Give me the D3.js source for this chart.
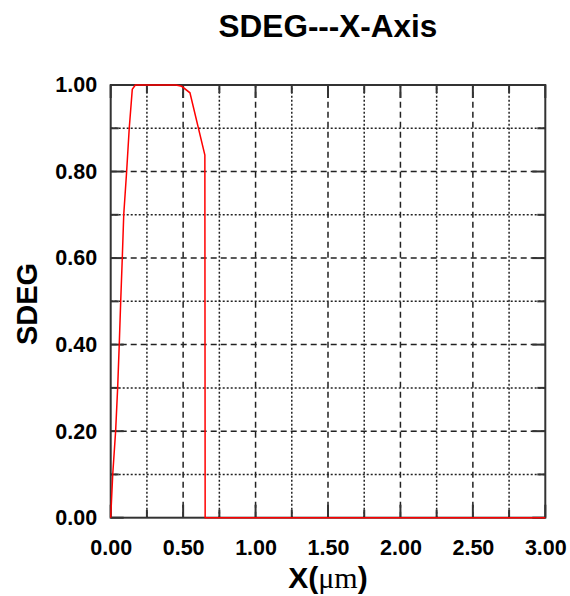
<!DOCTYPE html>
<html>
<head>
<meta charset="utf-8">
<script src="https://cdn.jsdelivr.net/npm/d3@7"></script>
<style>
  html, body { margin: 0; padding: 0; background: #fff; }
  svg { display: block; }
</style>
</head>
<body>
<script>
// ---- data ----
const xValues    = [0, 0.014, 0.034, 0.048, 0.059, 0.069, 0.080, 0.090, 0.110, 0.128, 0.149, 0.170, 0.450, 0.490, 0.547, 0.650, 0.652, 3.00];
const sdegValues = [0, 0.10,  0.20,  0.30,  0.40,  0.50,  0.60,  0.70,  0.80,  0.90,  0.99,  1.00,  1.00,  0.997, 0.982, 0.838, 0.0,   0.0];
const xMajorTicks = [0, 0.5, 1.0, 1.5, 2.0, 2.5, 3.0];
const xMinorTicks = [0.25, 0.75, 1.25, 1.75, 2.25, 2.75];
const yMajorTicks = [0, 0.2, 0.4, 0.6, 0.8, 1.0];
const yMinorTicks = [0.1, 0.3, 0.5, 0.7, 0.9];
const xTickLabels = ["0.00", "0.50", "1.00", "1.50", "2.00", "2.50", "3.00"];
const yTickLabels = ["0.00", "0.20", "0.40", "0.60", "0.80", "1.00"];
const titleText = "SDEG---X-Axis";
const yTitleText = "SDEG";

const W = 570, H = 596;
const L = 110.7, R = 545.3, T = 85, B = 517.7;

const svg = d3.select("body").append("svg").attr("width", W).attr("height", H);
svg.append("rect").attr("width", W).attr("height", H).attr("fill", "#fff");

const x = d3.scaleLinear().domain([0, 3]).range([L, R]);
const y = d3.scaleLinear().domain([0, 1]).range([B, T]);

const gridColor = "#222";
const g = svg.append("g");

// vertical grid lines
g.selectAll(".vmaj").data(xMajorTicks.slice(1, -1)).join("line")
  .attr("x1", d => x(d)).attr("x2", d => x(d)).attr("y1", B).attr("y2", T)
  .attr("stroke", gridColor).attr("stroke-width", 1.5).attr("stroke-dasharray", "6,4");
g.selectAll(".vmin").data(xMinorTicks).join("line")
  .attr("x1", d => x(d)).attr("x2", d => x(d)).attr("y1", B).attr("y2", T)
  .attr("stroke", gridColor).attr("stroke-width", 1.5).attr("stroke-dasharray", "2,2");
// horizontal grid lines
g.selectAll(".hmaj").data(yMajorTicks.slice(1, -1)).join("line")
  .attr("y1", d => y(d)).attr("y2", d => y(d)).attr("x1", L).attr("x2", R)
  .attr("stroke", gridColor).attr("stroke-width", 1.5).attr("stroke-dasharray", "6,4");
g.selectAll(".hmin").data(yMinorTicks).join("line")
  .attr("y1", d => y(d)).attr("y2", d => y(d)).attr("x1", L).attr("x2", R)
  .attr("stroke", gridColor).attr("stroke-width", 1.5).attr("stroke-dasharray", "2,2");

// inward ticks on all four sides
const tickColor = "#333";
function vt(vals, len) {
  vals.forEach(v => {
    g.append("line").attr("x1", x(v)).attr("x2", x(v)).attr("y1", B).attr("y2", B - len)
      .attr("stroke", tickColor).attr("stroke-width", 2);
    g.append("line").attr("x1", x(v)).attr("x2", x(v)).attr("y1", T).attr("y2", T + len)
      .attr("stroke", tickColor).attr("stroke-width", 2);
  });
}
function ht(vals, len) {
  vals.forEach(v => {
    g.append("line").attr("y1", y(v)).attr("y2", y(v)).attr("x1", L).attr("x2", L + len)
      .attr("stroke", tickColor).attr("stroke-width", 2);
    g.append("line").attr("y1", y(v)).attr("y2", y(v)).attr("x1", R).attr("x2", R - len)
      .attr("stroke", tickColor).attr("stroke-width", 2);
  });
}
vt(xMajorTicks, 13); vt(xMinorTicks, 8);
ht(yMajorTicks, 13); ht(yMinorTicks, 8);

// frame
svg.append("rect").attr("x", L).attr("y", T).attr("width", R - L).attr("height", B - T)
  .attr("fill", "none").attr("stroke", "#333").attr("stroke-width", 2);

// data line
const line = d3.line().x(d => x(d[0])).y(d => y(d[1]));
svg.append("path").datum(xValues.map((v, i) => [v, sdegValues[i]]))
  .attr("d", line).attr("fill", "none").attr("stroke", "#ff0000").attr("stroke-width", 1.5);

// x tick labels
const xAxis = d3.axisBottom(x).tickValues(xMajorTicks)
  .tickFormat((d, i) => xTickLabels[i]).tickSize(0).tickPadding(0);
const xa = svg.append("g").attr("transform", `translate(0, 555)`).call(xAxis);
xa.select(".domain").remove();
xa.selectAll("text").attr("font-family", "'Liberation Sans', Arial, sans-serif")
  .attr("font-weight", "bold").attr("font-size", 21.5).attr("fill", "#000")
  .attr("dy", null).attr("y", 0);

// y tick labels
const yAxis = d3.axisLeft(y).tickValues(yMajorTicks)
  .tickFormat((d, i) => yTickLabels[i]).tickSize(0).tickPadding(13.5);
const ya = svg.append("g").attr("transform", `translate(${L}, 0)`).call(yAxis);
ya.select(".domain").remove();
ya.selectAll("text").attr("font-family", "'Liberation Sans', Arial, sans-serif")
  .attr("font-weight", "bold").attr("font-size", 21.5).attr("fill", "#000");

// title
svg.append("text").attr("x", 328).attr("y", 37).attr("text-anchor", "middle")
  .attr("font-family", "'Liberation Sans', Arial, sans-serif").attr("font-weight", "bold")
  .attr("font-size", 31.5).attr("fill", "#000").text(titleText);

// x-axis title
const xt = svg.append("text").attr("x", 328).attr("y", 588).attr("text-anchor", "middle")
  .attr("font-family", "'Liberation Sans', Arial, sans-serif").attr("font-weight", "bold")
  .attr("font-size", 30).attr("fill", "#000");
xt.append("tspan").text("X(");
xt.append("tspan").attr("font-family", "'Liberation Serif', 'Times New Roman', serif")
  .attr("font-weight", "normal").attr("font-size", 30).text("μm");
xt.append("tspan").text(")");

// y-axis title
svg.append("text").attr("transform", "translate(37, 304) rotate(-90)")
  .attr("text-anchor", "middle")
  .attr("font-family", "'Liberation Sans', Arial, sans-serif").attr("font-weight", "bold")
  .attr("font-size", 29).attr("fill", "#000").text(yTitleText);
</script>
</body>
</html>
